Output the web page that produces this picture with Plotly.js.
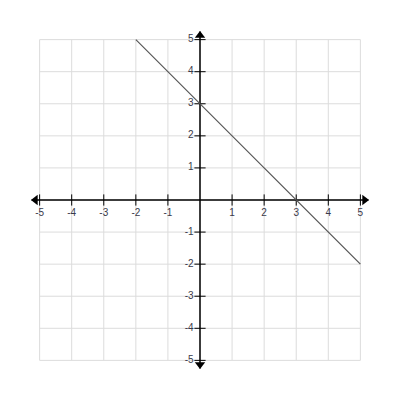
<!DOCTYPE html>
<html><head><meta charset="utf-8">
<script src="https://cdn.plot.ly/plotly-3.0.1.min.js"></script>
<style>html,body{margin:0;padding:0;background:#fff}</style>
</head><body><div id="chart" style="width:400px;height:400px"></div>
<script>
// Data
const tickVals = [-5,-4,-3,-2,-1,0,1,2,3,4,5];
const tickLabels = ['-5','-4','-3','-2','-1','','1','2','3','4','5'];
const lineX = [-2, 5];
const lineY = [5, -2];
const gridMin = -5, gridMax = 5;
const axisMin = -5.25, axisMax = 5.25;

const traces = [];
// grid
const gx = [], gy = [];
tickVals.forEach(v => { gx.push(v, v, null); gy.push(gridMin, gridMax, null); });
tickVals.forEach(v => { gx.push(gridMin, gridMax, null); gy.push(v, v, null); });
traces.push({x: gx, y: gy, mode: 'lines', line: {color: '#dcdcdc', width: 1}, hoverinfo: 'skip'});
// axes lines
traces.push({x: [axisMin, axisMax], y: [0, 0], mode: 'lines', line: {color: '#000', width: 1.5}, hoverinfo: 'skip'});
traces.push({x: [0, 0], y: [axisMin, axisMax], mode: 'lines', line: {color: '#000', width: 1.5}, hoverinfo: 'skip'});
// arrowheads
traces.push({x: [axisMin + 0.12, axisMax - 0.12, 0, 0], y: [0, 0, axisMax - 0.12, axisMin + 0.12], mode: 'markers',
  marker: {symbol: ['triangle-left', 'triangle-right', 'triangle-up', 'triangle-down'], size: 9, color: '#000'}, hoverinfo: 'skip'});
// tick marks
const nz = tickVals.filter(v => v !== 0);
traces.push({x: nz, y: nz.map(() => 0), mode: 'markers', marker: {symbol: 'line-ns', size: 8, line: {color: '#000', width: 1}}, hoverinfo: 'skip'});
traces.push({x: nz.map(() => 0), y: nz, mode: 'markers', marker: {symbol: 'line-ew', size: 8, line: {color: '#000', width: 1}}, hoverinfo: 'skip'});
// the function line
traces.push({x: lineX, y: lineY, mode: 'lines', line: {color: '#555', width: 1.2}, hoverinfo: 'skip'});
// tick labels
const labFont = {family: 'Liberation Sans, Arial, sans-serif', size: 10, color: '#3a3a4a'};
traces.push({x: tickVals, y: tickVals.map(() => -0.42), text: tickLabels, mode: 'text', textposition: 'middle center',
  textfont: labFont, hoverinfo: 'skip'});
traces.push({x: tickVals.map(() => -0.2), y: tickVals, text: tickLabels, mode: 'text', textposition: 'middle left',
  textfont: labFont, hoverinfo: 'skip'});

const m = 30.4;
Plotly.newPlot('chart', traces, {
  width: 400, height: 400, showlegend: false,
  margin: {l: m, r: m, t: m, b: m},
  paper_bgcolor: '#fff', plot_bgcolor: '#fff',
  xaxis: {range: [-5.3, 5.3], visible: false, fixedrange: true},
  yaxis: {range: [-5.3, 5.3], visible: false, fixedrange: true}
}, {staticPlot: true});
</script></body></html>
